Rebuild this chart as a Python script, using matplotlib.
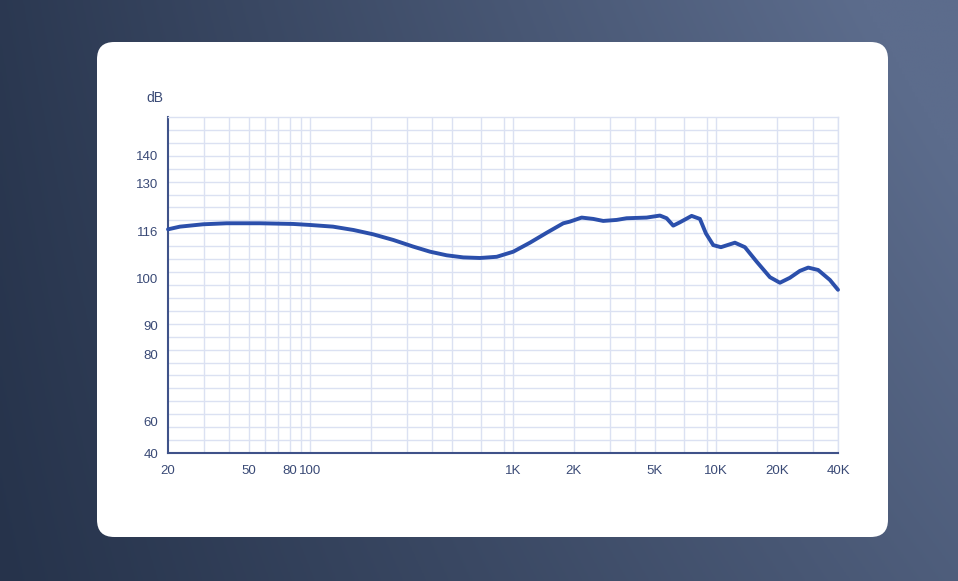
"""Frequency response chart (headphone style) on a white card."""

import matplotlib.pyplot as plt
import numpy as np
from matplotlib.patches import FancyBboxPatch
from matplotlib.ticker import FixedLocator, NullFormatter

plt.rcParams["font.family"] = ["Liberation Sans", "DejaVu Sans"]

# --- data -------------------------------------------------------------------
freq_hz = [20, 22.9, 29.8, 38.9, 56.8, 82.8, 100, 130, 164, 205, 258, 323,
           391, 472, 570, 689, 833, 1005, 1214, 1467, 1772, 1911, 2183, 2490,
           2788, 3246, 3636, 4562, 5304, 5724, 6170, 6658, 7602, 8352, 8938,
           9712, 10598, 12420, 13915, 15886, 18478, 20694, 23180, 25960,
           28540, 31940, 36480, 40000]
level_db = [116.5, 117.3, 118.0, 118.3, 118.3, 118.1, 117.8, 117.3, 116.3,
            114.9, 113.0, 110.8, 109.1, 107.9, 107.2, 107.0, 107.4, 109.1,
            112.1, 115.4, 118.3, 118.8, 120.0, 119.6, 119.0, 119.3, 119.8,
            120.0, 120.6, 119.8, 117.6, 118.6, 120.5, 119.6, 115.2, 111.3,
            110.6, 112.1, 110.6, 105.8, 100.6, 99.2, 100.4, 102.7, 103.8,
            103.0, 99.8, 97.7]

x_ticks = [20, 50, 80, 100, 1000, 2000, 5000, 10000, 20000, 40000]
x_labels = ["20", "50", "80", "100", "1K", "2K", "5K", "10K", "20K", "40K"]
x_grid = [30, 40, 50, 60, 70, 80, 90, 100, 200, 300, 400, 500, 700, 900,
          1000, 2000, 3000, 4000, 5000, 7000, 9000, 10000, 20000, 30000, 40000]

y_ticks = [40, 60, 80, 90, 100, 116, 130, 140]
# where each label sits on the axis (0 = bottom, 1 = top)
y_tick_pos = [0.0, 0.0952, 0.2917, 0.378, 0.5179, 0.6607, 0.8006, 0.8869]
y_top = 153

# --- colours -----------------------------------------------------------------
LINE = "#2b4fab"
AXIS = "#3f5289"
TEXT = "#3a4a76"
GRID = "#dbe1f2"

scale_vals = np.array([0] + y_ticks + [y_top, 300], dtype=float)
scale_pos = np.array([-0.5] + y_tick_pos + [1.0, 12.0])


def fwd(v):
    return np.interp(v, scale_vals, scale_pos)


def inv(p):
    return np.interp(p, scale_pos, scale_vals)


fig = plt.figure(figsize=(9.58, 5.81), dpi=100)

# background gradient
bg = fig.add_axes([0, 0, 1, 1], zorder=-10)
xx, yy = np.meshgrid(np.linspace(0, 1, 300), np.linspace(0, 1, 200))
c0 = np.array([0x26, 0x33, 0x4b]) / 255
c1 = np.array([0x5c, 0x6c, 0x8c]) / 255
t = np.clip(0.75 * xx + 0.25 * (1 - yy) * xx + 0.1 * (1 - yy), 0, 1)
img = c0[None, None, :] * (1 - t[..., None]) + c1[None, None, :] * t[..., None]
bg.imshow(img, aspect="auto", extent=[0, 1, 0, 1], origin="upper")
bg.set_axis_off()

W, H = 958, 581
card = FancyBboxPatch((97 / W, (H - 537) / H), (888 - 97) / W, (537 - 42) / H,
                      boxstyle="round,pad=0,rounding_size=0.018",
                      transform=fig.transFigure, facecolor="white",
                      edgecolor="none", zorder=-5, mutation_aspect=W / H)
fig.patches.append(card)

ax = fig.add_axes([168 / W, (H - 453) / H, 670 / W, 336 / H])
ax.set_facecolor("white")
ax.set_xscale("log")
ax.set_yscale("function", functions=(fwd, inv))
ax.set_xlim(20, 40000)
ax.set_ylim(40, y_top)

# keep grid lines that coincide with labelled ticks
ax.xaxis.remove_overlapping_locs = False
ax.yaxis.remove_overlapping_locs = False

ax.xaxis.set_major_locator(FixedLocator(x_ticks))
ax.set_xticklabels(x_labels)
ax.xaxis.set_minor_locator(FixedLocator(x_grid))
ax.xaxis.set_minor_formatter(NullFormatter())

grid_y = inv(np.arange(1, 26) / 26)
ax.yaxis.set_major_locator(FixedLocator(y_ticks))
ax.set_yticklabels([str(v) for v in y_ticks])
ax.yaxis.set_minor_locator(FixedLocator(grid_y))
ax.yaxis.set_minor_formatter(NullFormatter())

ax.grid(False, which="major")
ax.grid(True, which="minor", color=GRID, linewidth=1.0)
ax.tick_params(which="both", length=0)
ax.tick_params(axis="x", pad=9, labelsize=9.5, labelcolor=TEXT)
ax.tick_params(axis="y", pad=7, labelsize=9.5, labelcolor=TEXT)

for side in ("left", "bottom"):
    ax.spines[side].set_color(AXIS)
    ax.spines[side].set_linewidth(1.5)
for side in ("top", "right"):
    ax.spines[side].set_color(GRID)
    ax.spines[side].set_linewidth(1.0)

ax.plot(freq_hz, level_db, color=LINE, linewidth=2.8,
        solid_joinstyle="round", solid_capstyle="round", zorder=5,
        clip_on=False)

fig.text(155 / W, (H - 98) / H, "dB", ha="center", va="center",
         fontsize=10, color=TEXT)

fig.savefig("out.png", dpi=100)
